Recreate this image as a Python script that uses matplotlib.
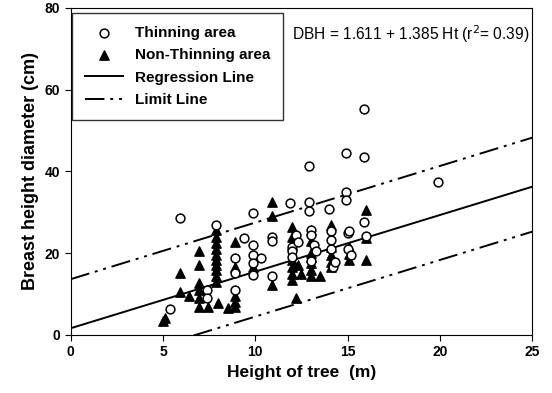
import matplotlib.pyplot as plt
import numpy as np

plt.rcParams['font.family'] = ['Liberation Sans', 'DejaVu Sans']

# thinning area (open circles)
thin_ht = [5.4, 5.9, 7.4, 7.4, 7.9, 8.9, 8.9, 8.9, 9.4, 9.9, 9.9, 9.9, 9.9, 9.9,
           10.3, 10.9, 10.9, 10.9, 11.9, 12.0, 12.0, 12.0, 12.2, 12.3, 12.9, 12.9,
           12.9, 13.0, 13.0, 13.2, 13.3, 13.0, 14.0, 14.1, 14.1, 14.1, 14.2, 14.3,
           14.9, 14.9, 14.9, 15.0, 15.1, 15.0, 15.2, 15.9, 15.9, 15.9, 16.0, 19.9]
thin_dbh = [6.3, 28.6, 11.0, 9.1, 26.9, 18.8, 15.2, 11.0, 23.7, 29.8, 22.0, 19.5, 17.5, 14.7,
            18.8, 24.0, 23.0, 14.5, 32.2, 21.6, 20.5, 19.1, 24.5, 22.8, 41.4, 32.5,
            30.3, 25.7, 24.5, 22.0, 20.5, 18.0, 30.7, 25.3, 23.2, 21.0, 16.7, 17.8,
            44.6, 35.0, 33.0, 24.9, 25.4, 20.9, 19.6, 55.2, 43.5, 27.6, 24.3, 37.5]

# non-thinning area (filled triangles)
non_ht = [5.0, 5.1, 5.9, 5.9, 6.4, 6.95, 6.95, 6.95, 6.95, 6.95, 6.95, 7.45,
          7.9, 7.9, 7.9, 7.9, 7.9, 7.9, 7.9, 7.9, 7.9, 7.9, 8.0, 8.5,
          8.9, 8.9, 8.9, 8.9, 8.9, 9.9, 10.9, 10.9, 10.9,
          12.0, 12.0, 12.0, 12.0, 12.0, 12.0, 12.0, 12.2, 12.3, 12.5,
          13.0, 13.0, 13.0, 13.0, 13.0, 13.0, 13.0, 13.5,
          14.1, 14.1, 14.1, 14.1, 14.1, 15.1, 15.1, 15.1, 16.0, 16.0, 16.0]
non_dbh = [3.5, 4.2, 15.2, 10.6, 9.4, 20.4, 17.1, 12.7, 11.0, 9.0, 6.9, 6.9,
           25.7, 24.0, 22.5, 21.0, 19.5, 18.3, 17.0, 15.9, 14.5, 13.0, 7.8, 6.6,
           22.8, 16.7, 9.6, 8.0, 6.9, 16.7, 32.6, 29.0, 12.2,
           26.5, 24.0, 22.0, 18.3, 16.5, 14.8, 13.4, 9.0, 17.0, 15.0,
           25.7, 23.0, 20.0, 19.1, 17.5, 15.8, 14.3, 14.3,
           26.9, 21.6, 19.5, 17.8, 16.7, 21.6, 19.8, 18.3, 30.5, 23.6, 18.3]

intercept = 1.611
slope = 1.385
upper_off = 12.0
lower_off = -11.0

fig = plt.figure(figsize=(5.52, 3.93), dpi=100)
ax = fig.add_axes([0.128, 0.148, 0.836, 0.832])

ax.scatter(non_ht, non_dbh, marker='^', s=45, c='black', zorder=3,
           label='Non-Thinning area')
ax.scatter(thin_ht, thin_dbh, marker='o', s=40, facecolors='white',
           edgecolors='black', linewidths=1.1, zorder=4, label='Thinning area')

xs = np.array([0, 25])
ax.plot(xs, intercept + slope * xs, color='black', lw=1.4, label='Regression Line', zorder=2)
dd = (0, (10, 3, 1.5, 3, 1.5, 3))
ax.plot(xs, intercept + upper_off + slope * xs, color='black', lw=1.4,
        linestyle=dd, label='Limit Line', zorder=2)
ax.plot(xs, intercept + lower_off + slope * xs, color='black', lw=1.4,
        linestyle=dd, zorder=2)

ax.set_xlim(0, 25)
ax.set_ylim(0, 80)
ax.set_xticks([0, 5, 10, 15, 20, 25])
ax.set_yticks([0, 20, 40, 60, 80])
ax.tick_params(direction='out', length=4, labelsize=10)
for lab in ax.get_xticklabels() + ax.get_yticklabels():
    lab.set_fontweight('bold')
ax.set_xlabel('Height of tree  (m)', fontsize=12.5, fontweight='bold')
ax.set_ylabel('Breast height diameter (cm)', fontsize=13, fontweight='bold')

h, l = ax.get_legend_handles_labels()
order = [1, 0, 2, 3]
leg = ax.legend([h[i] for i in order], [l[i] for i in order], loc='upper left',
                bbox_to_anchor=(0.002, 0.985), borderaxespad=0,
                prop={'weight': 'bold', 'size': 11}, frameon=True, fancybox=False,
                edgecolor='black', borderpad=0.85, handlelength=2.5,
                handletextpad=0.8, labelspacing=0.55)
leg.get_frame().set_linewidth(1.0)

ax.text(0.995, 0.92, 'DBH = 1.611 + 1.385 Ht (r$^2$= 0.39)', transform=ax.transAxes,
        ha='right', va='center', fontsize=11.2)

fig.savefig('out.png', dpi=100)
